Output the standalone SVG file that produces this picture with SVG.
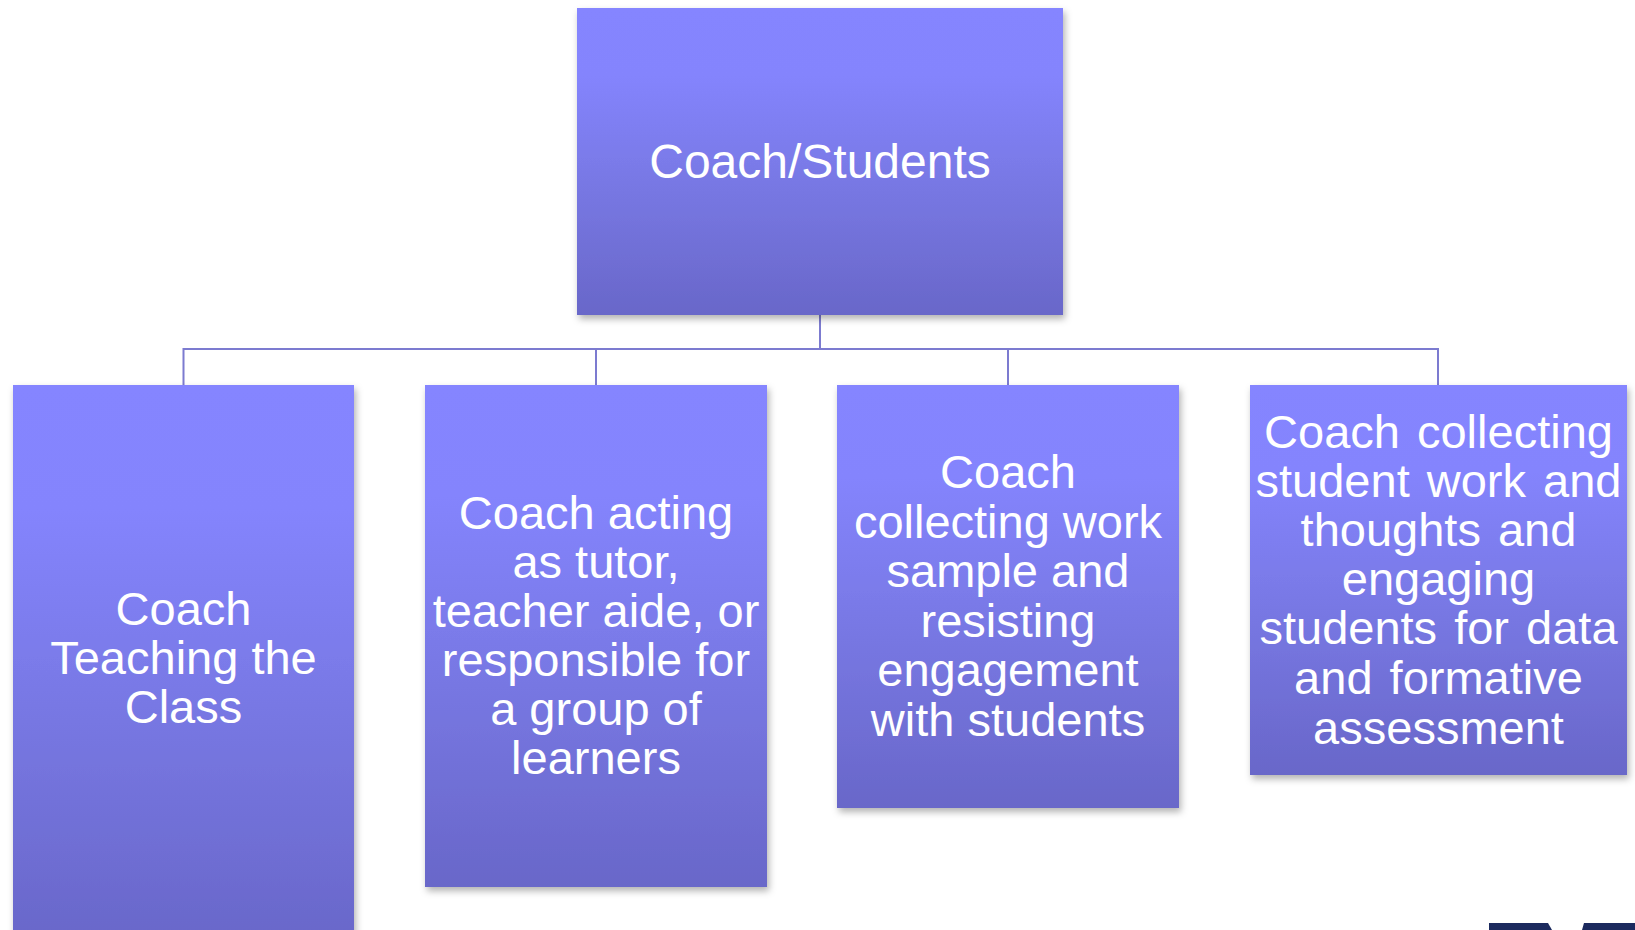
<svg xmlns="http://www.w3.org/2000/svg" width="1635" height="930" viewBox="0 0 1635 930">
<style>
.box{fill:url(#g);filter:url(#sh)}
.t{font-family:"Liberation Sans",Arial,sans-serif;fill:#ffffff;text-anchor:middle}
.top{font-size:48px}
.sub{font-size:47px}
.conn{fill:none;stroke:#7c7bd0;stroke-width:2}
</style>
<defs>
<linearGradient id="g" x1="0" y1="0" x2="0" y2="1">
<stop offset="0" stop-color="#8585ff"/>
<stop offset="0.22" stop-color="#8484fd"/>
<stop offset="0.6" stop-color="#7777e2"/>
<stop offset="1" stop-color="#6967c9"/>
</linearGradient>
<filter id="sh" x="-10%" y="-10%" width="125%" height="125%">
<feDropShadow dx="2" dy="4" stdDeviation="3.5" flood-color="#000" flood-opacity="0.3"/>
</filter>
</defs>
<rect width="1635" height="930" fill="#ffffff"/>
<g id="connectors">
<path class="conn" d="M820 315 V349"/>
<path class="conn" d="M183.5 385 V349 H1438 V385"/>
<path class="conn" d="M596 349 V385"/>
<path class="conn" d="M1008 349 V385"/>
</g>
<g id="node-top">
<rect class="box" x="577" y="8" width="486" height="307"/>
<text class="t top" x="820" y="178">Coach/Students</text>
</g>
<g id="node-1">
<rect class="box" x="13" y="385" width="341" height="560"/>
<text class="t sub" x="183.5"><tspan x="183.5" y="625">Coach</tspan><tspan x="183.5" y="674">Teaching the</tspan><tspan x="183.5" y="723">Class</tspan></text>
</g>
<g id="node-2">
<rect class="box" x="425" y="385" width="342" height="502"/>
<text class="t sub"><tspan x="596" y="529">Coach acting</tspan><tspan x="596" y="578">as tutor,</tspan><tspan x="596" y="627">teacher aide, or</tspan><tspan x="596" y="676">responsible for</tspan><tspan x="596" y="725">a group of</tspan><tspan x="596" y="774">learners</tspan></text>
</g>
<g id="node-3">
<rect class="box" x="837" y="385" width="342" height="423"/>
<text class="t sub"><tspan x="1008" y="488">Coach</tspan><tspan x="1008" y="538">collecting work</tspan><tspan x="1008" y="587">sample and</tspan><tspan x="1008" y="637">resisting</tspan><tspan x="1008" y="686">engagement</tspan><tspan x="1008" y="736">with students</tspan></text>
</g>
<g id="node-4">
<rect class="box" x="1250" y="385" width="377" height="390"/>
<text class="t sub" word-spacing="4"><tspan x="1438.5" y="448">Coach collecting</tspan><tspan x="1438.5" y="497">student work and</tspan><tspan x="1438.5" y="546">thoughts and</tspan><tspan x="1438.5" y="595">engaging</tspan><tspan x="1438.5" y="644">students for data</tspan><tspan x="1438.5" y="694">and formative</tspan><tspan x="1438.5" y="744">assessment</tspan></text>
</g>
<g id="logo-fragment" fill="#1c2a5e">
<polygon points="1489,923 1548,923 1552,930 1489,930"/>
<polygon points="1584,923 1635,923 1635,930 1582,930"/>
</g>
</svg>
